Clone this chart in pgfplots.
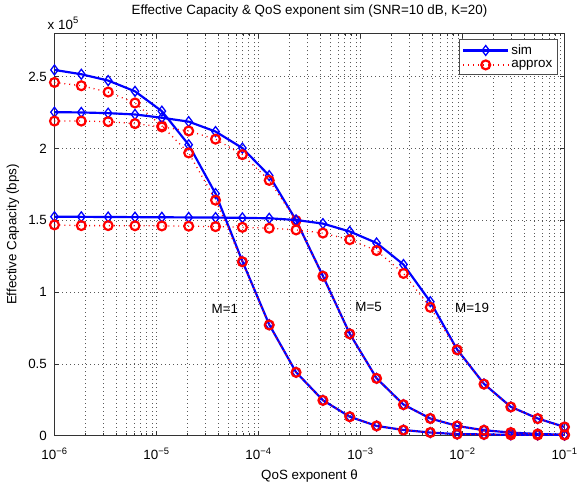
\documentclass[border=0pt]{standalone}
\usepackage{fontspec}
\setmainfont{Liberation Sans}
\usepackage{pgfplots}
\usepackage{pgfplotstable}
\pgfplotsset{compat=1.18}

\definecolor{mblue}{RGB}{0,0,255}
\definecolor{mred}{RGB}{255,0,0}

% effective capacity in units of 1e5 bps
\pgfplotstableread{
x        s1    a1    s5    a5    s19   a19
1e-6     2.546 2.459 2.252 2.190 1.524 1.467
1.833e-6 2.516 2.436 2.250 2.190 1.523 1.462
3.360e-6 2.472 2.392 2.245 2.186 1.522 1.462
6.158e-6 2.397 2.316 2.236 2.172 1.521 1.461
1.129e-5 2.259 2.156 2.213 2.149 1.520 1.460
2.069e-5 2.025 1.968 2.186 2.121 1.519 1.458
3.793e-5 1.685 1.639 2.117 2.064 1.518 1.455
6.952e-5 1.214 1.210 2.002 1.956 1.516 1.450
1.274e-4 0.773 0.770 1.810 1.777 1.513 1.444
2.336e-4 0.441 0.440 1.499 1.497 1.501 1.432
4.281e-4 0.246 0.245 1.111 1.110 1.476 1.410
7.848e-4 0.131 0.131 0.709 0.708 1.421 1.364
1.438e-3 0.067 0.067 0.399 0.398 1.341 1.288
2.637e-3 0.039 0.038 0.216 0.215 1.191 1.129
4.833e-3 0.021 0.021 0.119 0.119 0.932 0.893
8.859e-3 0.010 0.010 0.067 0.067 0.599 0.597
1.624e-2 0.008 0.008 0.037 0.037 0.360 0.358
2.976e-2 0.005 0.005 0.021 0.021 0.200 0.199
5.456e-2 0.004 0.004 0.011 0.011 0.119 0.118
0.1      0.003 0.003 0.006 0.006 0.060 0.060
}\ecdata

\begin{document}
\fontsize{13.5}{16}\selectfont
\begin{tikzpicture}
\begin{axis}[
    scale only axis,
    width=515pt, height=406pt,
    clip mode=individual,
    xmode=log,
    xmin=1e-6, xmax=1e-1,
    ymin=0, ymax=2.8,
    xtick={1e-6,1e-5,1e-4,1e-3,1e-2,1e-1},
    minor xtick={2e-6,3e-6,4e-6,5e-6,6e-6,7e-6,8e-6,9e-6,
                 2e-5,3e-5,4e-5,5e-5,6e-5,7e-5,8e-5,9e-5,
                 2e-4,3e-4,4e-4,5e-4,6e-4,7e-4,8e-4,9e-4,
                 2e-3,3e-3,4e-3,5e-3,6e-3,7e-3,8e-3,9e-3,
                 2e-2,3e-2,4e-2,5e-2,6e-2,7e-2,8e-2,9e-2},
    xticklabels={10\textsuperscript{−6},10\textsuperscript{−5},10\textsuperscript{−4},10\textsuperscript{−3},10\textsuperscript{−2},10\textsuperscript{−1}},
    ytick={0,0.5,1,1.5,2,2.5},
    yticklabels={0,0.5,1,1.5,2,2.5},
    tick align=inside,
    major tick length=5pt, minor tick length=3pt,
    tick style={black!80},
    axis line style={black!80},
    grid=both,
    major grid style={black!65, dash pattern=on 1pt off 3pt},
    minor grid style={black!65, dash pattern=on 1pt off 3pt},
    ticklabel style={font=\fontsize{13.5}{16}\selectfont},
    yticklabel style={xshift=-3pt},
    xticklabel style={yshift=-8pt},
    title={Effective Capacity \& QoS exponent sim (SNR=10 dB, K=20)},
    title style={font=\fontsize{13.5}{16}\selectfont, yshift=6pt},
    xlabel={QoS exponent θ},
    ylabel={Effective Capacity (bps)},
    label style={font=\fontsize{13.5}{16}\selectfont},
    xlabel style={yshift=-1pt},
    legend style={at={(rel axis cs:0.986,0.985)}, anchor=north east,
        draw=black!70, font=\fontsize{13.5}{16}\selectfont,
        inner sep=3pt, row sep=0pt, cells={anchor=west}},
    legend image code/.code={
        \draw[mark repeat=2, mark phase=2, #1]
            plot coordinates {(0cm,0cm) (0.8cm,0cm) (1.6cm,0cm)};},
    simstyle/.style={mblue, line width=2.2pt, mark=diamond, mark size=5pt,
        mark options={solid, line width=1.3pt, mblue, fill=none}},
    appstyle/.style={mred, line width=1.3pt, dash pattern=on 1pt off 4pt,
        mark=o, mark size=4.5pt,
        mark options={solid, line width=2.2pt, mred}},
]
\addplot[simstyle] table[x=x, y=s1] {\ecdata};
\addlegendentry{sim}
\addplot[appstyle] table[x=x, y=a1] {\ecdata};
\addlegendentry{approx}
\addplot[simstyle, forget plot] table[x=x, y=s5] {\ecdata};
\addplot[appstyle, forget plot] table[x=x, y=a5] {\ecdata};
\addplot[simstyle, forget plot] table[x=x, y=s19] {\ecdata};
\addplot[appstyle, forget plot] table[x=x, y=a19] {\ecdata};

\node at (axis cs:4.68e-5,0.88) {M=1};
\node at (axis cs:1.2e-3,0.893) {M=5};
\node at (axis cs:1.24e-2,0.886) {M=19};
\node[anchor=south west, inner sep=1pt] at ([xshift=-8pt, yshift=3pt]rel axis cs:0,1) {x 10\textsuperscript{5}};
\end{axis}
\path (current axis.south west) ++(-55pt,-45pt);
\path (current axis.north east) ++(12pt,32pt);
\end{tikzpicture}
\end{document}
